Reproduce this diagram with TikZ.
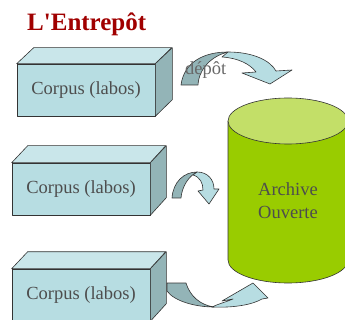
\documentclass[tikz,border=0pt]{standalone}
\usepackage{fontspec}
\setmainfont{Liberation Serif}
\definecolor{frontc}{HTML}{B7DDE2}
\definecolor{topc}{HTML}{C9E6EA}
\definecolor{sidec}{HTML}{93B4B7}
\definecolor{cylbody}{HTML}{99CC00}
\definecolor{cyltop}{HTML}{C3DF68}
\definecolor{titlec}{HTML}{A00000}
\definecolor{edgec}{HTML}{333333}
\definecolor{txtc}{HTML}{4D4D4D}
\begin{document}
\begin{tikzpicture}[x=1pt,y=-1pt,
  outl/.style={draw=edgec,line width=0.6pt,line join=round},
  frontface/.style={outl,fill=frontc,minimum width=138pt,minimum height=52pt,inner sep=0pt,
    font=\fontsize{18.5}{20}\selectfont,text=txtc},
  topface/.style={outl,fill=topc},
  sideface/.style={outl,fill=sidec},
  arrowlight/.style={outl,fill=frontc},
  arrowdark/.style={outl,fill=sidec},
  bodytext/.style={font=\fontsize{18.5}{23}\selectfont,text=txtc}]
\useasboundingbox (0,0) rectangle (345,320);
\clip (0,0) rectangle (345,320);

% title
\node[anchor=base west,inner sep=0pt,font=\bfseries\fontsize{25}{28}\selectfont,text=titlec] (title) at (27,31) {L\textquotesingle Entrepôt};

% boxes
\node[frontface] (c1) at (86,90) {Corpus (labos)};
\draw[topface] (c1.north west) -- ++(17,-16) -- ++(138,0) -- (c1.north east) -- cycle;
\draw[sideface] (c1.north east) -- ++(17,-16) -- ++(0,52) -- (c1.south east) -- cycle;

\node[frontface] (c2) at (81,189) {Corpus (labos)};
\draw[topface] (c2.north west) -- ++(16,-17) -- ++(138,0) -- (c2.north east) -- cycle;
\draw[sideface] (c2.north east) -- ++(16,-17) -- ++(0,52) -- (c2.south east) -- cycle;

\node[frontface] (c3) at (81,295) {Corpus (labos)};
\draw[topface] (c3.north west) -- ++(16,-17) -- ++(138,0) -- (c3.north east) -- cycle;
\draw[sideface] (c3.north east) -- ++(16,-17) -- ++(0,52) -- (c3.south east) -- cycle;

% cylinder
\fill[cylbody] (228,121) -- (228,260) arc[start angle=180,end angle=0,x radius=60,y radius=23] -- (348,121) -- cycle;
\draw[outl] (228,121) -- (228,260) arc[start angle=180,end angle=0,x radius=60,y radius=23] -- (348,121);
\draw[outl,fill=cyltop] (288,121) ellipse[x radius=60,y radius=23];
\node[bodytext,align=center] (ao) at (288,201) {Archive\\Ouverte};

% arrow 1 (depot)
\draw[arrowdark] (181,85) .. controls (184,62) and (204,52) .. (228,52)
  .. controls (212,56) and (199,68) .. (198,85) -- cycle;
\draw[arrowlight] (228,52) .. controls (252,52) and (270,60) .. (276,71)
  -- (292,70) -- (270,84) -- (242,73) -- (256,72)
  .. controls (250,64) and (238,58) .. (222,57) -- cycle;
\node[anchor=base west,inner sep=0pt,font=\fontsize{18.5}{20}\selectfont,text=txtc!85] (depot) at (185,75) {dépôt};

% arrow 2
\draw[arrowdark] (172,198) .. controls (173,182) and (184,172) .. (197,172)
  .. controls (189,176) and (182,186) .. (181,198) -- cycle;
\draw[arrowlight] (197,172) .. controls (208,172) and (214,180) .. (214,189)
  -- (219,189) -- (209,204) -- (198,191) -- (203,190)
  .. controls (203,183) and (200,177) .. (193,175) -- cycle;

% arrow 3
\draw[arrowdark] (167,283) -- (186,283) .. controls (190,296) and (200,305) .. (214,307)
  .. controls (195,307) and (174,301) .. (167,291) -- cycle;
\draw[arrowlight] (212,307) .. controls (232,308) and (252,305) .. (262,299)
  -- (268,298) -- (253,283) -- (222,301) -- (233,299)
  .. controls (226,302) and (218,304) .. (212,307) -- cycle;
\end{tikzpicture}
\end{document}
